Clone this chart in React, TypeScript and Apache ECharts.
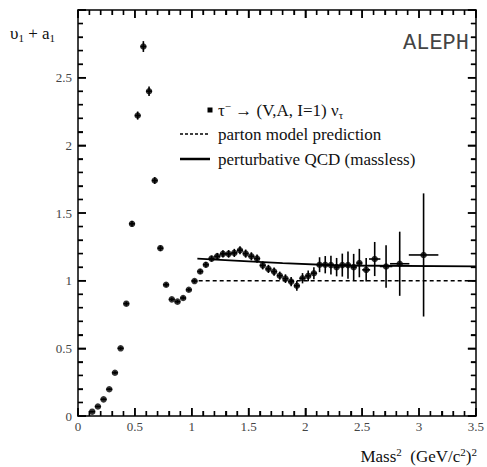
import React, { useEffect, useRef } from 'react';
import * as echarts from 'echarts';

const masses = [
  0.125, 0.175, 0.225, 0.275, 0.325, 0.375, 0.425, 0.475, 0.525, 0.575,
  0.625, 0.675, 0.725, 0.775, 0.825, 0.875, 0.925, 0.975, 1.025, 1.075,
  1.125, 1.175, 1.225, 1.275, 1.325, 1.375, 1.425, 1.475, 1.525, 1.575,
  1.625, 1.675, 1.725, 1.775, 1.825, 1.875, 1.925, 1.975, 2.025, 2.075,
  2.125, 2.175, 2.225, 2.275, 2.325, 2.375, 2.425, 2.475,
  2.535, 2.61, 2.71, 2.83, 3.04,
];
const values = [
  0.032, 0.07, 0.123, 0.198, 0.32, 0.5, 0.83, 1.42, 2.22, 2.73,
  2.4, 1.74, 1.24, 0.97, 0.862, 0.845, 0.872, 0.933, 0.997, 1.068,
  1.118, 1.163, 1.18, 1.198, 1.198, 1.205, 1.225, 1.2, 1.18, 1.163,
  1.113, 1.087, 1.067, 1.037, 1.015, 0.993, 0.962, 1.018, 1.035, 1.055,
  1.118, 1.118, 1.115, 1.1, 1.115, 1.115, 1.1, 1.13,
  1.08, 1.16, 1.105, 1.125, 1.19,
];
const yErrors = [
  0.005, 0.006, 0.007, 0.008, 0.01, 0.012, 0.015, 0.02, 0.03, 0.04,
  0.035, 0.025, 0.02, 0.015, 0.012, 0.012, 0.012, 0.013, 0.015, 0.017,
  0.02, 0.022, 0.025, 0.027, 0.028, 0.03, 0.03, 0.03, 0.03, 0.03,
  0.03, 0.03, 0.03, 0.03, 0.032, 0.034, 0.036, 0.038, 0.04, 0.045,
  0.055, 0.064, 0.07, 0.068, 0.085, 0.1, 0.098, 0.105,
  0.087, 0.126, 0.157, 0.237, 0.455,
];
const xErrors = [
  0.025, 0.025, 0.025, 0.025, 0.025, 0.025, 0.025, 0.025, 0.025, 0.025,
  0.025, 0.025, 0.025, 0.025, 0.025, 0.025, 0.025, 0.025, 0.025, 0.025,
  0.025, 0.025, 0.025, 0.025, 0.025, 0.025, 0.025, 0.025, 0.025, 0.025,
  0.025, 0.025, 0.025, 0.025, 0.025, 0.025, 0.025, 0.025, 0.025, 0.025,
  0.025, 0.025, 0.025, 0.025, 0.025, 0.025, 0.025, 0.025,
  0.035, 0.05, 0.055, 0.085, 0.13,
];
const partonMass = [1.0, 3.5];
const partonValue = [1, 1];
const qcdMass = [1.05, 1.5, 1.8, 2.3, 3.5];
const qcdValue = [1.163, 1.143, 1.13, 1.112, 1.106];

const X_MAX = 3.5;
const Y_MAX = 3;
const xTicks = ['0', '0.5', '1', '1.5', '2', '2.5', '3', '3.5'];
const yTicks = ['0', '0.5', '1', '1.5', '2', '2.5'];

const legendData = 'τ{sup|−} → (V,A, I=1) ν{sub|τ}';
const legendParton = 'parton model prediction';
const legendQcd = 'perturbative QCD (massless)';
const experiment = 'ALEPH';
const yName = 'υ{sub|1} + a{sub|1}';
const xName = 'Mass{sup|2}  (GeV/c{sup|2}){sup|2}';

const SERIF = 'Liberation Serif';
const MONO = 'Liberation Mono';

function makeAxis(pos: string, max: number, showLabels: boolean, labels: string[]) {
  return {
    type: 'value',
    min: 0,
    max,
    interval: 0.5,
    position: pos,
    axisLine: { show: true, onZero: false, lineStyle: { color: '#000', width: 1.5 } },
    axisTick: { show: true, inside: true, length: 8, lineStyle: { color: '#000', width: 1.5 } },
    minorTick: { show: true, splitNumber: 5, length: 5, lineStyle: { color: '#000', width: 1.3 } },
    splitLine: { show: false },
    axisLabel: {
      show: showLabels,
      margin: pos === 'bottom' ? 4 : 6,
      fontSize: 13,
      fontFamily: SERIF,
      color: '#444',
      formatter: (v: number) => labels[Math.round(v / 0.5)] ?? '',
    },
  };
}

export default function App() {
  const ref = useRef<HTMLDivElement>(null);
  useEffect(() => {
    const chart = echarts.init(ref.current!, null, { renderer: 'svg' });
    const errData = masses.map((m, i) => [
      m, values[i], values[i] - yErrors[i], values[i] + yErrors[i], m - xErrors[i], m + xErrors[i],
    ]);

    const rich = {
      sup: { fontSize: 11, fontFamily: SERIF, verticalAlign: 'top', lineHeight: 12, fill: '#111' },
      sub: { fontSize: 11, fontFamily: SERIF, verticalAlign: 'bottom', lineHeight: 12, fill: '#111' },
    };
    const txt = (text: string, x: number, y: number, size: number, extra: any = {}) => ({
      type: 'text',
      x,
      y,
      style: {
        text,
        fontSize: size,
        fontFamily: SERIF,
        fill: '#111',
        verticalAlign: 'middle',
        align: 'left',
        lineHeight: 20,
        rich,
        ...extra,
      },
    });
    const baseGraphic: any[] = [
      { type: 'rect', shape: { x: 207.5, y: 107.5, width: 5, height: 5 }, style: { fill: '#000' } },
      txt(legendData, 218, 110, 17),
      { type: 'line', shape: { x1: 180, y1: 134, x2: 210, y2: 134 }, style: { stroke: '#000', lineWidth: 1.5, lineDash: [3, 2] } },
      txt(legendParton, 218, 134, 17),
      { type: 'line', shape: { x1: 180, y1: 159, x2: 210, y2: 159 }, style: { stroke: '#000', lineWidth: 2.5 } },
      txt(legendQcd, 218, 159, 17),
      {
        type: 'text', x: 469, y: 43,
        style: { text: experiment, fontSize: 22, fontFamily: MONO, fill: '#444', align: 'right', verticalAlign: 'middle' },
      },
      txt(yName, 10, 33, 17),
      txt(xName, 477, 456, 17, { align: 'right' }),
    ];
    const option = {
      animation: false,
      grid: { left: 78, right: 10, top: 10, bottom: 51 },
      xAxis: [makeAxis('bottom', X_MAX, true, xTicks), makeAxis('top', X_MAX, false, xTicks)],
      yAxis: [makeAxis('left', Y_MAX, true, yTicks), makeAxis('right', Y_MAX, false, yTicks)],
      series: [
        {
          type: 'line', xAxisIndex: 0, yAxisIndex: 0, symbol: 'none',
          data: partonMass.map((m, i) => [m, partonValue[i]]),
          lineStyle: { color: '#000', width: 1.5, type: [4, 3] },
        },
        {
          type: 'line', xAxisIndex: 0, yAxisIndex: 0, symbol: 'none',
          data: qcdMass.map((m, i) => [m, qcdValue[i]]),
          lineStyle: { color: '#000', width: 1.8 },
        },
        {
          type: 'custom', xAxisIndex: 0, yAxisIndex: 0,
          data: errData,
          encode: { x: 0, y: 1 },
          renderItem: (params: any, api: any) => {
            const m = api.value(0);
            const v = api.value(1);
            const a = api.coord([m, api.value(2)]);
            const b = api.coord([m, api.value(3)]);
            const c = api.coord([api.value(4), v]);
            const d = api.coord([api.value(5), v]);
            const st = { stroke: '#000', lineWidth: 1.6 };
            return {
              type: 'group',
              children: [
                { type: 'line', shape: { x1: a[0], y1: a[1], x2: b[0], y2: b[1] }, style: st },
                { type: 'line', shape: { x1: c[0], y1: c[1], x2: d[0], y2: d[1] }, style: st },
              ],
            };
          },
        },
        {
          type: 'scatter', xAxisIndex: 0, yAxisIndex: 0,
          data: masses.map((m, i) => [m, values[i]]),
          symbol: 'circle', symbolSize: 6.5,
          itemStyle: { color: '#000' },
        },
      ],
      graphic: baseGraphic,
    };
    chart.setOption(option as any);

    // tick marks on all four sides, positioned through the axes' own scales
    const tickEls: any[] = [];
    const st = { stroke: '#000', lineWidth: 1.4 };
    for (let k = 0; k <= Math.round(X_MAX * 10); k++) {
      const v = k / 10;
      const len = k % 5 === 0 ? 8 : 5;
      const b = chart.convertToPixel({ gridIndex: 0 }, [v, 0]) as number[];
      const t = chart.convertToPixel({ gridIndex: 0 }, [v, Y_MAX]) as number[];
      tickEls.push({ type: 'line', silent: true, shape: { x1: b[0], y1: b[1], x2: b[0], y2: b[1] - len }, style: st });
      tickEls.push({ type: 'line', silent: true, shape: { x1: t[0], y1: t[1], x2: t[0], y2: t[1] + len }, style: st });
    }
    for (let k = 0; k <= Math.round(Y_MAX * 10); k++) {
      const v = k / 10;
      const len = k % 5 === 0 ? 8 : 5;
      const l = chart.convertToPixel({ gridIndex: 0 }, [0, v]) as number[];
      const r = chart.convertToPixel({ gridIndex: 0 }, [X_MAX, v]) as number[];
      tickEls.push({ type: 'line', silent: true, shape: { x1: l[0], y1: l[1], x2: l[0] + len, y2: l[1] }, style: st });
      tickEls.push({ type: 'line', silent: true, shape: { x1: r[0], y1: r[1], x2: r[0] - len, y2: r[1] }, style: st });
    }
    chart.setOption({ graphic: baseGraphic.concat(tickEls) } as any);
    return () => chart.dispose();
  }, []);
  return <div ref={ref} style={{ position: 'absolute', left: 0, top: 0, width: 487, height: 467 }} />;
}
